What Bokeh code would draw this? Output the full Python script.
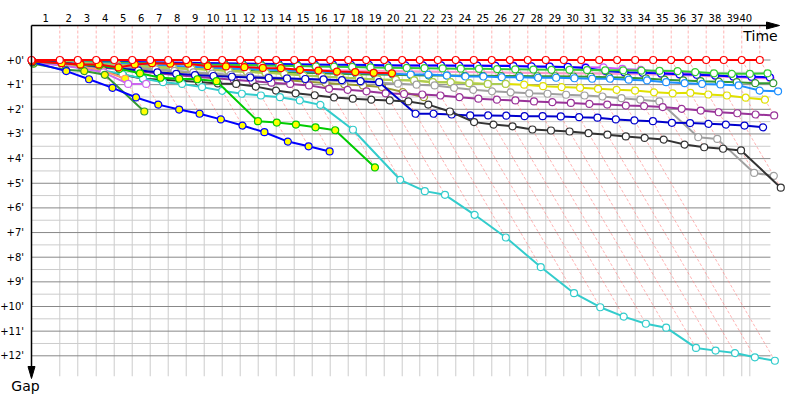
import numpy as np
from bokeh.plotting import figure
from bokeh.models import Range1d
from bokeh.core.properties import value
from bokeh.embed import file_html
from bokeh.resources import INLINE

# ---------------- data ----------------
# leader lap times (seconds), laps 1..40
lap_times_s = [117.9, 75.0, 76.7, 75.0, 75.0, 75.0, 75.0, 75.0, 75.0, 75.0,
               75.0, 75.0, 75.0, 75.0, 75.0, 75.0, 75.0, 75.0, 75.0, 75.0,
               73.3, 75.0, 75.0, 75.0, 75.0, 75.0, 75.0, 75.0, 75.0, 72.5,
               75.0, 75.0, 75.0, 75.0, 75.0, 70.8, 75.0, 73.3, 75.0, 75.0]
race_end_s = 2993.0
grid_end_s = 3079.0
grid_bottom_gap = 12.83
gap_ticks = [0, 1, 2, 3, 4, 5, 6, 7, 8, 9, 10, 11, 12]
lap_labels = [str(i) for i in range(1, 41)]

# gaps to leader (minutes), index = lap (0 = start)
gap_leader = [0.0] * 41
gap_green = [0.03, 0.05, 0.07, 0.09, 0.10, 0.12, 0.13, 0.15, 0.16, 0.18, 0.19, 0.20, 0.22, 0.23, 0.24, 0.26, 0.27, 0.28, 0.30, 0.31,
             0.32, 0.33, 0.34, 0.35, 0.36, 0.37, 0.38, 0.39, 0.40, 0.40, 0.41, 0.42, 0.42, 0.43, 0.44, 0.45, 0.49, 0.54, 0.56, 0.56, 0.54]
gap_blue = [0.02, 0.03, 0.05, 0.06, 0.07, 0.08, 0.09, 0.10, 0.11, 0.12, 0.13, 0.14, 0.15, 0.16, 0.17, 0.18, 0.19, 0.19, 0.20, 0.21,
            0.22, 0.22, 0.22, 0.23, 0.23, 0.24, 0.25, 0.26, 0.27, 0.28, 0.32, 0.45, 0.50, 0.52, 0.55, 0.58, 0.60, 0.63, 0.67, 0.68, 0.70]
gap_violet = [0.02, 0.04, 0.06, 0.08, 0.10, 0.12, 0.14, 0.16, 0.18, 0.19, 0.20, 0.21, 0.22, 0.22, 0.23, 0.24, 0.25, 0.26, 0.25, 0.23,
              0.22, 0.22, 0.22, 0.22, 0.22, 0.22, 0.22, 0.26, 0.26, 0.29, 0.29, 0.30, 0.36, 0.40, 0.49, 0.53, 0.56, 0.62, 0.68, 0.71, 0.72]
gap_pink = [0.03, 0.06, 0.09, 0.12, 0.15, 0.18, 0.21, 0.24, 0.27, 0.30, 0.32, 0.34, 0.36, 0.38, 0.40, 0.41, 0.42, 0.43, 0.44, 0.45,
            0.46, 0.47, 0.48, 0.49, 0.50, 0.51, 0.52, 0.53, 0.54, 0.55, 0.55, 0.56, 0.57, 0.58, 0.60, 0.62, 0.64, 0.67, 0.70, 0.73, 0.75]
gap_darkgreen = [0.04, 0.08, 0.12, 0.16, 0.20, 0.24, 0.28, 0.32, 0.35, 0.38, 0.41, 0.44, 0.47, 0.50, 0.52, 0.54, 0.56, 0.58, 0.59, 0.60,
                 0.62, 0.63, 0.63, 0.64, 0.64, 0.65, 0.65, 0.66, 0.66, 0.67, 0.68, 0.70, 0.72, 0.75, 0.80, 0.83, 0.86, 0.88, 0.90, 0.94, 0.94]
gap_lightblue = [0.03, 0.06, 0.09, 0.12, 0.15, 0.18, 0.21, 0.24, 0.27, 0.30, 0.33, 0.36, 0.39, 0.42, 0.45, 0.48, 0.50, 0.52, 0.54, 0.56,
                 0.59, 0.59, 0.63, 0.67, 0.67, 0.70, 0.70, 0.72, 0.72, 0.74, 0.76, 0.76, 0.80, 0.83, 0.90, 0.94, 0.97, 0.99, 1.03, 1.24, 1.27]
gap_yellow = [0.04, 0.08, 0.12, 0.16, 0.20, 0.24, 0.28, 0.32, 0.36, 0.40, 0.44, 0.48, 0.52, 0.56, 0.63, 0.67, 0.71, 0.75, 0.79, 0.81,
              0.83, 0.90, 0.90, 0.94, 0.97, 0.97, 1.00, 1.06, 1.10, 1.13, 1.17, 1.21, 1.24, 1.31, 1.35, 1.33, 1.40, 1.44, 1.53, 1.61]
gap_yellowgreen = [0.04, 0.08, 0.12, 0.16, 0.20, 0.24, 0.28, 0.32, 0.36, 0.40, 0.44, 0.48, 0.52, 0.56, 0.63, 0.67, 0.71, 0.75, 0.79, 0.81,
                   0.83, 0.90, 0.90, 0.94, 0.97, 0.97]
gap_olive = [0.05, 0.10, 0.16, 0.22, 0.28, 0.34, 0.40, 0.46, 0.52, 0.58, 0.64, 0.70, 0.76, 0.82, 0.88, 0.93, 0.98, 1.03, 1.10, 1.30, 1.51]
gap_silver = [0.05, 0.10, 0.15, 0.20, 0.26, 0.32, 0.38, 0.44, 0.50, 0.55, 0.60, 0.65, 0.70, 0.74, 0.78, 0.82, 0.86, 0.89, 0.92, 0.96,
              1.00, 1.03, 1.13, 1.21, 1.27, 1.31, 1.35, 1.37, 1.41, 1.44, 1.48, 1.55, 1.61, 1.68, 3.13, 3.20, 4.58, 4.70]
gap_purple = [0.06, 0.14, 0.22, 0.30, 0.38, 0.46, 0.54, 0.62, 0.68, 0.74, 0.80, 0.86, 0.92, 0.97, 1.03, 1.17, 1.21, 1.27, 1.35, 1.38,
              1.40, 1.44, 1.51, 1.57, 1.61, 1.64, 1.68, 1.71, 1.74, 1.78, 1.81, 1.85, 1.87, 1.91, 1.98, 2.05, 2.12, 2.16, 2.21, 2.25]
gap_navy = [0.04, 0.10, 0.18, 0.26, 0.34, 0.42, 0.50, 0.56, 0.61, 0.65, 0.68, 0.71, 0.73, 0.75, 0.77, 0.79, 0.82, 0.86, 0.90, 2.18,
            2.18, 2.21, 2.25, 2.25, 2.26, 2.28, 2.28, 2.29, 2.32, 2.34, 2.41, 2.45, 2.48, 2.55, 2.56, 2.59, 2.62, 2.66, 2.73]
gap_black = [0.08, 0.20, 0.32, 0.45, 0.60, 0.76, 0.80, 0.84, 0.89, 0.95, 0.97, 1.08, 1.24, 1.35, 1.43, 1.52, 1.57, 1.61, 1.64, 1.68,
             1.81, 2.09, 2.52, 2.62, 2.69, 2.82, 2.86, 2.90, 2.97, 3.03, 3.10, 3.16, 3.23, 3.43, 3.54, 3.60, 3.67, 5.18]
gap_cyan = [0.06, 0.15, 0.27, 0.42, 0.58, 0.75, 0.90, 0.97, 1.10, 1.25, 1.37, 1.44, 1.51, 1.64, 1.82, 2.83, 4.86, 5.32, 5.47, 6.28,
            7.20, 8.40, 9.46, 10.03, 10.41, 10.70, 10.86, 11.68, 11.79, 11.89, 12.06, 12.20]
gap_red_y = [0.05, 0.13, 0.18, 0.18, 0.30, 0.18, 0.13, 0.15, 0.15, 0.25, 0.26, 0.29, 0.32, 0.33, 0.40, 0.43, 0.47, 0.49, 0.52, 0.54]
gap_lime_y = [0.07, 0.12, 0.20, 0.22, 0.36, 0.54, 0.72, 0.76, 0.78, 0.86, 2.48, 2.54, 2.62, 2.73, 2.85, 4.36]
gap_blue_y = [0.09, 0.45, 0.78, 1.13, 1.52, 1.81, 2.01, 2.18, 2.41, 2.66, 2.93, 3.31, 3.50, 3.71]
gap_green_y = [0.15, 0.40, 0.45, 0.60, 2.09]
gap_orchid = [0.10, 0.22, 0.35, 0.50, 0.97, 0.97]
gap_orange_y = [0.08, 0.18, 0.28, 0.42, 0.76]

# (gaps, line colour, marker fill) in drawing order
cars = [
    (gap_pink, "#ff99cc", "white"),
    (gap_violet, "#cc55ff", "white"),
    (gap_blue, "#0000ff", "white"),
    (gap_green, "#33cc33", "white"),
    (gap_darkgreen, "#339933", "white"),
    (gap_lightblue, "#1e90ff", "white"),
    (gap_yellow, "#e0e000", "white"),
    (gap_yellowgreen, "#aacc55", "white"),
    (gap_olive, "#999933", "white"),
    (gap_silver, "#a0a0a0", "white"),
    (gap_purple, "#993399", "white"),
    (gap_navy, "#0000cc", "white"),
    (gap_black, "#333333", "white"),
    (gap_cyan, "#33cccc", "white"),
    (gap_orange_y, "#ff9966", "#ffff00"),
    (gap_orchid, "#cc66ee", "white"),
    (gap_green_y, "#339933", "#ffff00"),
    (gap_blue_y, "#0000ff", "#ffff00"),
    (gap_lime_y, "#00cc00", "#ffff00"),
    (gap_red_y, "#ff0000", "#ffff00"),
    (gap_leader, "#ff0000", "white"),
]

# ---------------- geometry helpers (pixel layout) ----------------
PX0, SX = 31.0, 14.4      # x pixel of time 0, px per minute
PY0, SY = 59.5, 24.65     # y pixel of gap 0, px per minute


def X(px):
    return (px - PX0) / SX


def Y(py):
    return (py - PY0) / SY


leader_t = np.concatenate([[0.0], np.cumsum(lap_times_s)]) / 60.0  # minutes, index = lap
race_end = race_end_s / 60.0
grid_end = grid_end_s / 60.0

p = figure(width=800, height=400, output_backend="svg", toolbar_location=None,
           x_range=Range1d(X(0), X(800)), y_range=Range1d(Y(400), Y(0)),
           x_axis_type=None, y_axis_type=None, min_border=0,
           outline_line_color=None, background_fill_color="white")
p.xgrid.visible = False
p.ygrid.visible = False

# horizontal grid
half = [g + 0.5 for g in gap_ticks[:-1]]
p.multi_line(xs=[[0, grid_end]] * len(half), ys=[[h, h] for h in half],
             line_color="#cccccc", line_width=1)
# vertical grid
vx = list(leader_t[1:40]) + [race_end]
p.multi_line(xs=[[v, v] for v in vx], ys=[[0, grid_bottom_gap]] * len(vx),
             line_color="#cccccc", line_width=1)
p.multi_line(xs=[[0, grid_end]] * len(gap_ticks), ys=[[g, g] for g in gap_ticks],
             line_color="#888888", line_width=1)

# pink lap-crossing lines
gmax = {}
for gaps, _, _ in cars:
    for lap in range(1, len(gaps)):
        gmax[lap] = max(gmax.get(lap, 0.0), gaps[lap])
pxs, pys = [], []
for lap in range(1, 41):
    t = leader_t[lap]
    g = gmax.get(lap, 0.0)
    pxs.append([t, t, t + g])
    pys.append([Y(25), 0, g])
p.multi_line(xs=pxs, ys=pys, line_color="#ff8080", line_alpha=0.6, line_width=1, line_dash="3 2")

# cars
for gaps, col, fill in cars:
    g = np.array(gaps, dtype=float)
    x = leader_t[:len(g)] + g
    p.line(x, g, line_color=col, line_width=2)
    p.scatter(x, g, marker="circle", size=7, fill_color=fill, line_color=col, line_width=1.2)

# axes with arrows
p.line([0, X(768)], [Y(25), Y(25)], line_color="black", line_width=1.5)
p.patch([X(766), X(779), X(766)], [Y(21.5), Y(25), Y(28.5)], fill_color="black", line_color="black")
p.line([0, 0], [Y(25), Y(367)], line_color="black", line_width=1.5)
p.patch([X(27.5), X(31), X(34.5)], [Y(366), Y(378), Y(366)], fill_color="black", line_color="black")

font = value("DejaVu Sans")
bounds = [0.0] + list(leader_t[1:40]) + [race_end]
mids = [(bounds[i] + bounds[i + 1]) / 2 for i in range(40)]
p.text(x=mids, y=[Y(17)] * 40, text=lap_labels, text_font=font, text_font_size=value("10px"),
       text_align="center", text_baseline="middle", text_color="black")
p.text(x=[X(23.5)] * len(gap_ticks), y=gap_ticks, text=["+%d'" % g for g in gap_ticks],
       text_font=font, text_font_size=value("10px"), text_align="right", text_baseline="middle",
       text_color="black")
p.text(x=[X(760)], y=[Y(35)], text=["Time"], text_font=font, text_font_size=value("14px"),
       text_align="center", text_baseline="middle", text_color="black")
p.text(x=[X(25)], y=[Y(385)], text=["Gap"], text_font=font, text_font_size=value("14px"),
       text_align="center", text_baseline="middle", text_color="black")

open("out.html", "w").write(file_html(p, INLINE))
